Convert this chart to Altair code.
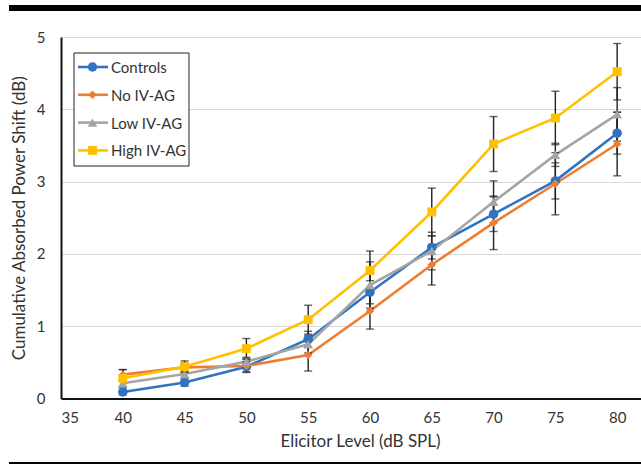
import altair as alt
import pandas as pd

levels = [40, 45, 50, 55, 60, 65, 70, 75, 80]
series_names = ["Controls", "No IV-AG", "Low IV-AG", "High IV-AG"]
controls = [0.09, 0.22, 0.44, 0.82, 1.47, 2.09, 2.55, 3.01, 3.67]
no_ivag = [0.33, 0.43, 0.45, 0.60, 1.21, 1.85, 2.43, 2.97, 3.52]
low_ivag = [0.21, 0.34, 0.51, 0.75, 1.57, 2.04, 2.72, 3.37, 3.93]
high_ivag = [0.28, 0.44, 0.69, 1.09, 1.77, 2.58, 3.52, 3.88, 4.52]
err_controls = [0.04, 0.05, 0.07, 0.11, 0.16, 0.16, 0.24, 0.25, 0.29]
err_no = [0.07, 0.06, 0.09, 0.22, 0.25, 0.28, 0.37, 0.43, 0.44]
err_low = [0.05, 0.05, 0.06, 0.12, 0.32, 0.26, 0.29, 0.16, 0.37]
err_high = [0.12, 0.08, 0.14, 0.20, 0.27, 0.33, 0.38, 0.37, 0.39]
x_ticks = [35, 40, 45, 50, 55, 60, 65, 70, 75, 80]
y_ticks = [0, 1, 2, 3, 4, 5]

colors = ["#2F73C2", "#ED7D31", "#A5A5A5", "#FFC000"]
shapes = ["circle", "diamond", "triangle-up", "square"]
sizes = [90, 70, 95, 80]

rows = []
for name, vals, errs in zip(series_names, [controls, no_ivag, low_ivag, high_ivag],
                            [err_controls, err_no, err_low, err_high]):
    for lv, v, e in zip(levels, vals, errs):
        rows.append({"series": name, "level": lv, "value": v, "lo": v - e, "hi": v + e})
df = pd.DataFrame(rows)

FONT = "Lato"
XT = "Elicitor Level (dB SPL)"
YT = "Cumulative Absorbed Power Shift (dB)"
xscale = alt.Scale(domain=[35, 81.93], nice=False, zero=False)
yscale = alt.Scale(domain=[0, 5], nice=False)
xaxis = alt.Axis(values=x_ticks, title=XT, grid=False, ticks=False, labelPadding=12,
                 titlePadding=8, labelFontSize=15, titleFontSize=17, titleX=299)
yaxis = alt.Axis(values=y_ticks, title=YT, grid=True, ticks=False, labelPadding=16,
                 titlePadding=8, labelFontSize=15, titleFontSize=17)

def X(field="level"):
    return alt.X(f"{field}:Q", scale=xscale, axis=xaxis, title=XT)

def Y(field):
    return alt.Y(f"{field}:Q", scale=yscale, axis=yaxis, title=YT)

base = alt.Chart(df)

lines = base.mark_line(strokeWidth=2.6).encode(
    x=X(), y=Y("value"),
    stroke=alt.Stroke("series:N", scale=alt.Scale(domain=series_names, range=colors), legend=None),
)

bars = base.mark_rule(color="#222222", strokeWidth=1.4).encode(x=X(), y=Y("lo"), y2="hi:Q")
caps_lo = base.mark_tick(orient="horizontal", size=8, thickness=1.4, color="#222222").encode(x=X(), y=Y("lo"))
caps_hi = base.mark_tick(orient="horizontal", size=8, thickness=1.4, color="#222222").encode(x=X(), y=Y("hi"))

markers = []
for name, col, shp, sz in zip(series_names, colors, shapes, sizes):
    markers.append(
        base.transform_filter(alt.datum.series == name)
        .mark_point(shape=shp, size=sz, filled=True, color=col, opacity=1)
        .encode(x=X(), y=Y("value"))
    )

# legend box (drawn as guide decoration)
deco = alt.Chart(pd.DataFrame({"k": [0]}))
legend_layers = [
    deco.mark_rect(fill="white", stroke="#222222", strokeWidth=1).encode(
        x=alt.value(13), x2=alt.value(128), y=alt.value(16), y2=alt.value(129))
]
for i, (name, col, shp, sz) in enumerate(zip(series_names, colors, shapes, sizes)):
    ry = 30 + 27.8 * i
    legend_layers.append(deco.mark_rule(color=col, strokeWidth=2.6).encode(
        x=alt.value(17), x2=alt.value(47), y=alt.value(ry)))
    legend_layers.append(deco.mark_point(shape=shp, size=sz, filled=True, color=col, opacity=1).encode(
        x=alt.value(31.5), y=alt.value(ry)))
    legend_layers.append(deco.mark_text(text=name, align="left", baseline="middle", font=FONT,
                                        fontSize=15, color="#333333").encode(
        x=alt.value(50), y=alt.value(ry + 1)))

top_bar = deco.mark_rule(color="black", strokeWidth=6).encode(
    x=alt.value(-52), x2=alt.value(580), y=alt.value(-29))
bottom_line = deco.mark_rule(color="black", strokeWidth=2).encode(
    x=alt.value(-52), x2=alt.value(580), y=alt.value(426))

chart = alt.layer(lines, bars, caps_lo, caps_hi, *markers, *legend_layers, top_bar, bottom_line).properties(
    width=580, height=361.5,
    autosize=alt.AutoSizeParams(type="none"),
    padding={"left": 61, "top": 37, "right": 0, "bottom": 74.5},
).configure_view(stroke=None).configure_axis(
    labelFont=FONT, titleFont=FONT, labelColor="#333333", titleColor="#333333",
    domainColor="#111111", domainWidth=2, gridColor="#D9D9D9", gridWidth=1,
    titleFontWeight="normal",
)

chart.save("out.html", embed_options={"renderer": "svg", "actions": False})
